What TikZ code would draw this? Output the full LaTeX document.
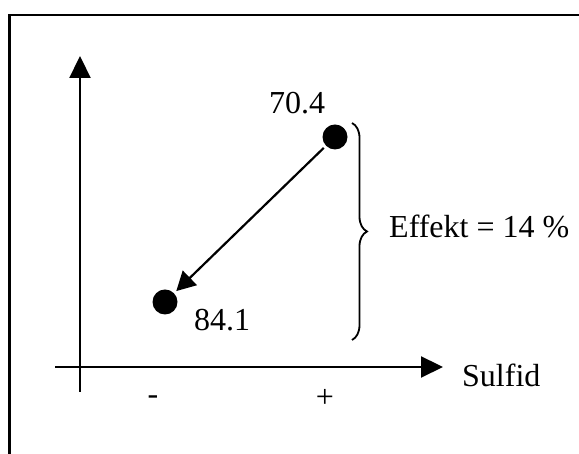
\documentclass[tikz,border=0pt]{standalone}
\usepackage{fontspec}
\setmainfont{Liberation Serif}
\usetikzlibrary{arrows.meta,decorations.pathreplacing,positioning}
\tikzset{
  font=\fontsize{32}{37}\selectfont,
  frameline/.style={line width=2.4pt},
  axis/.style={-{Triangle[length=22pt,width=21pt]}, line width=2.2pt},
  dot/.style={circle, fill=black, draw=none, minimum size=25pt, inner sep=0pt},
  effarrow/.style={-{Triangle[length=19pt,width=20pt]}, line width=2.2pt,
    shorten <=3pt, shorten >=3pt},
  curly/.style={decorate, decoration={brace, amplitude=15pt}, line width=1.8pt},
  label/.style={inner sep=0pt}
}
\begin{document}
\begin{tikzpicture}[x=1pt,y=1pt]
  \useasboundingbox (0,0) rectangle (579,454);
  \draw[frameline] (9.5,0) -- (9.5,439) -- (579,439);

  % axes
  \coordinate (ybot) at (80,62);
  \coordinate (ytop) at (80,398);
  \coordinate (xleft) at (55,87);
  \coordinate (xright) at (443,87);
  \draw[axis] (ybot) -- (ytop);
  \draw[axis] (xleft) -- (xright);
  \node[label, anchor=base west] (sulfid) at (462,67) {Sulfid};
  \node[label] (minus) at (153,54) {-};
  \node[label] (plus) at (325,56) {+};

  % points
  \node[dot] (high) at (335,317) {};
  \node[dot] (low) at (165,152) {};
  \node[label] (highval) at (297,351) {70.4};
  \node[label] (lowval) at (222,134) {84.1};
  \draw[effarrow] (high) -- (low);

  % effect
  \coordinate (bracetop) at (352,331);
  \coordinate (bracebot) at (352,114);
  \draw[curly] (bracetop) -- (bracebot);
  \node[label, anchor=west] (effect) at (389,228) {Effekt = 14 \%};
\end{tikzpicture}
\end{document}
